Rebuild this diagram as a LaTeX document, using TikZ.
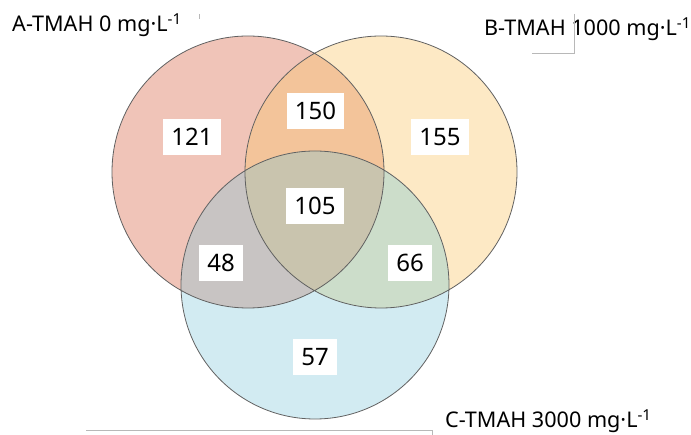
\documentclass[tikz,border=0pt]{standalone}
\usepackage{fontspec}
\setmainfont{Noto Sans}
\newcommand{\setA}{(248,172) circle (136pt)}
\newcommand{\setB}{(381,172) circle (136pt)}
\newcommand{\setC}{(315,285) circle (134pt)}
\definecolor{onlyA}{HTML}{F0C4B8}
\definecolor{onlyB}{HTML}{FDE9C5}
\definecolor{onlyC}{HTML}{D2EBF2}
\definecolor{AandB}{HTML}{F3C49A}
\definecolor{AandC}{HTML}{C8C4C3}
\definecolor{BandC}{HTML}{CCDDCA}
\definecolor{allABC}{HTML}{C9C4AE}

\begin{document}
\begin{tikzpicture}[x=1pt,y=-1pt,
  count/.style={fill=white,inner xsep=8pt,inner ysep=0pt,minimum height=36pt,font=\fontsize{24}{28}\selectfont},
  setlabel/.style={anchor=base west,inner sep=0pt,font=\fontsize{21.6}{26}\selectfont},
  frag/.style={draw=black!28,line width=0.8pt}]
  \useasboundingbox (0,0) rectangle (691,435);
  % set fills
  \fill[onlyA] \setA;
  \fill[onlyB] \setB;
  \fill[onlyC] \setC;
  \begin{scope}
    \clip \setA;
    \fill[AandB] \setB;
    \fill[AandC] \setC;
  \end{scope}
  \begin{scope}
    \clip \setB;
    \fill[BandC] \setC;
    \clip \setA;
    \fill[allABC] \setC;
  \end{scope}
  \draw[black!62,line width=0.8pt] \setA \setB \setC;
  % counts
  \node[count] (nA) at (192,137) {121};
  \node[count] (nB) at (440,137) {155};
  \node[count] (nC) at (315,357) {57};
  \node[count] (nAB) at (315.5,111) {150};
  \node[count] (nAC) at (221,263) {48};
  \node[count] (nBC) at (410,263) {66};
  \node[count] (nABC) at (315,206) {105};
  % set names
  \node[setlabel] (labA) at (12,32) {A-TMAH 0 mg·L\textsuperscript{-1}};
  \node[setlabel] (labB) at (484,36) {B-TMAH 1000 mg·L\textsuperscript{-1}};
  \node[setlabel] (labC) at (445,428) {C-TMAH 3000 mg·L\textsuperscript{-1}};
  % leftover box edges
  \draw[frag] (199,14) -- (199,19);
  \draw[frag] (574,14) -- (574,53) -- (532,53);
  \draw[frag] (86,430) -- (432,430) -- (432,435);
\end{tikzpicture}
\end{document}
